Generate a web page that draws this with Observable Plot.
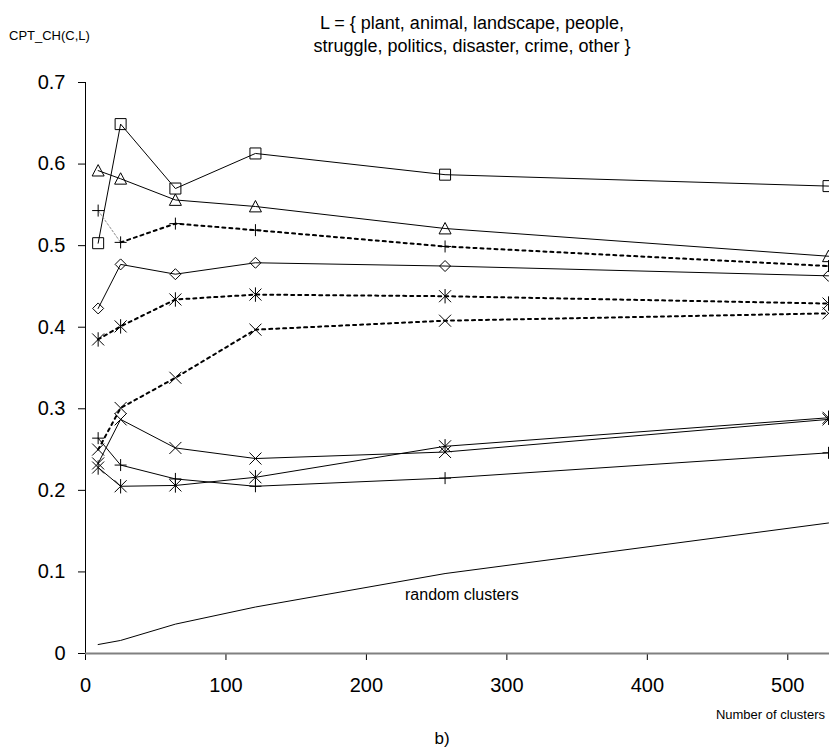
<!DOCTYPE html>
<html>
<head>
<meta charset="utf-8">
<script src="https://cdn.jsdelivr.net/npm/d3@7"></script>
<script src="https://cdn.jsdelivr.net/npm/@observablehq/plot@0.6"></script>
<style>
  body { margin: 0; background: #fff; }
  #wrap { position: relative; width: 829px; height: 748px; font-family: "Liberation Sans", Arial, sans-serif; color: #000; overflow: hidden; }
  .t { position: absolute; white-space: nowrap; line-height: 1; }
</style>
</head>
<body>
<div id="wrap">
  <div class="t" id="ylab" style="left:9px; top:29px; font-size:13px;">CPT_CH(C,L)</div>
  <div class="t" id="title" style="left:272px; width:400px; top:12px; font-size:18px; text-align:center; line-height:23px;">L = { plant, animal, landscape, people,<br>struggle, politics, disaster, crime, other }</div>
  <div class="t" id="xlab" style="right:4px; top:708px; font-size:13px;">Number of clusters</div>
  <div class="t" id="cap" style="left:392px; width:100px; top:730px; font-size:17px; text-align:center;">b)</div>
</div>
<script>
// ---- data ----
const clusters       = [9, 25, 64, 121, 256, 529];
const squareSolid    = [0.503, 0.649, 0.570, 0.613, 0.587, 0.573];
const triangleSolid  = [0.592, 0.582, 0.556, 0.548, 0.521, 0.487];
const plusDotted     = [0.543, 0.504, 0.527, 0.519, 0.499, 0.475];
const diamondSolid   = [0.423, 0.477, 0.465, 0.479, 0.475, 0.463];
const asteriskDotted = [0.385, 0.401, 0.434, 0.440, 0.438, 0.429];
const timesDotted    = [0.250, 0.301, 0.338, 0.397, 0.408, 0.417];
const timesSolid     = [0.233, 0.287, 0.252, 0.239, 0.247, 0.287];
const asteriskSolid  = [0.228, 0.205, 0.206, 0.216, 0.254, 0.289];
const plusSolid      = [0.264, 0.231, 0.214, 0.205, 0.215, 0.246];
const randomClusters = [0.011, 0.016, 0.036, 0.057, 0.098, 0.160];
const yTicks = [0, 0.1, 0.2, 0.3, 0.4, 0.5, 0.6, 0.7];
const xTicks = [0, 100, 200, 300, 400, 500];
const annotations = [{x: 268, y: 0.065, text: "random clusters"}];

// ---- custom open marker symbols ----
const half = size => Math.sqrt(size / Math.PI);
const symSquare = {draw(c, s) { const h = half(s); c.rect(-h, -h, 2 * h, 2 * h); }};
const symTriangle = {draw(c, s) { const h = half(s); c.moveTo(0, -h); c.lineTo(h, h * 0.9); c.lineTo(-h, h * 0.9); c.closePath(); }};
const symDiamond = {draw(c, s) { const h = half(s); c.moveTo(0, -h); c.lineTo(h, 0); c.lineTo(0, h); c.lineTo(-h, 0); c.closePath(); }};
const symPlus = {draw(c, s) { const h = half(s); c.moveTo(-h, 0); c.lineTo(h, 0); c.moveTo(0, -h); c.lineTo(0, h); }};
const symTimes = {draw(c, s) { const h = half(s); c.moveTo(-h, -h); c.lineTo(h, h); c.moveTo(h, -h); c.lineTo(-h, h); }};
const symAsterisk = {draw(c, s) { const h = half(s); c.moveTo(-h, -h); c.lineTo(h, h); c.moveTo(h, -h); c.lineTo(-h, h); c.moveTo(0, -h * 1.2); c.lineTo(0, h * 1.2); }};

const series = [
  {values: squareSolid,    sym: symSquare,   r: 5.5, dotted: false},
  {values: triangleSolid,  sym: symTriangle, r: 6,   dotted: false},
  {values: plusDotted,     sym: symPlus,     r: 6,   dotted: true, faintFirst: true},
  {values: diamondSolid,   sym: symDiamond,  r: 5.5, dotted: false},
  {values: asteriskDotted, sym: symAsterisk, r: 6,   dotted: true},
  {values: timesDotted,    sym: symTimes,    r: 6,   dotted: true},
  {values: timesSolid,     sym: symTimes,    r: 6,   dotted: false},
  {values: asteriskSolid,  sym: symAsterisk, r: 6,   dotted: false},
  {values: plusSolid,      sym: symPlus,     r: 6,   dotted: false}
];

const rows = vals => clusters.map((x, i) => ({x, y: vals[i], i}));

const marks = [
  Plot.ruleX([0], {stroke: "#000", strokeWidth: 1}),
  Plot.axisY(yTicks, {tickSize: 7, tickPadding: 13, fontSize: 20, tickFormat: d => String(+d.toFixed(1)), label: null, stroke: "#000"}),
  Plot.axisX(xTicks, {tickSize: 7, tickPadding: 17, fontSize: 20, tickFormat: d => String(d), label: null, stroke: "#000"}),
  Plot.ruleY([0], {stroke: "#808080", strokeWidth: 2}),
  Plot.line(rows(randomClusters), {x: "x", y: "y", stroke: "#000", strokeWidth: 1})
];

for (const s of series) {
  const data = rows(s.values);
  if (s.dotted) {
    if (s.faintFirst) {
      marks.push(Plot.line(data.filter(d => d.i <= 1), {x: "x", y: "y", stroke: "#888", strokeWidth: 1, strokeDasharray: "2,2"}));
      marks.push(Plot.line(data.filter(d => d.i >= 1), {x: "x", y: "y", stroke: "#000", strokeWidth: 2, strokeDasharray: "3,4"}));
    } else {
      marks.push(Plot.line(data, {x: "x", y: "y", stroke: "#000", strokeWidth: 2, strokeDasharray: "3,4"}));
    }
  } else {
    marks.push(Plot.line(data, {x: "x", y: "y", stroke: "#000", strokeWidth: 1}));
  }
  marks.push(Plot.dot(data, {x: "x", y: "y", symbol: s.sym, r: s.r, stroke: "#000", fill: "none", strokeWidth: 1}));
}

marks.push(Plot.text(annotations, {x: "x", y: "y", text: "text", fontSize: 16, textAnchor: "middle", lineAnchor: "bottom", fill: "#000"}));

const chart = Plot.plot({
  width: 829,
  height: 748,
  marginTop: 82,
  marginBottom: 95,
  marginLeft: 85,
  marginRight: 0,
  style: {fontFamily: "'Liberation Sans', Arial, sans-serif", color: "#000", background: "#fff", overflow: "hidden"},
  x: {domain: [0, 529.7]},
  y: {domain: [0, 0.7]},
  marks
});
chart.style.position = "absolute";
chart.style.left = "0";
chart.style.top = "0";
document.getElementById("wrap").prepend(chart);
</script>
</body>
</html>
